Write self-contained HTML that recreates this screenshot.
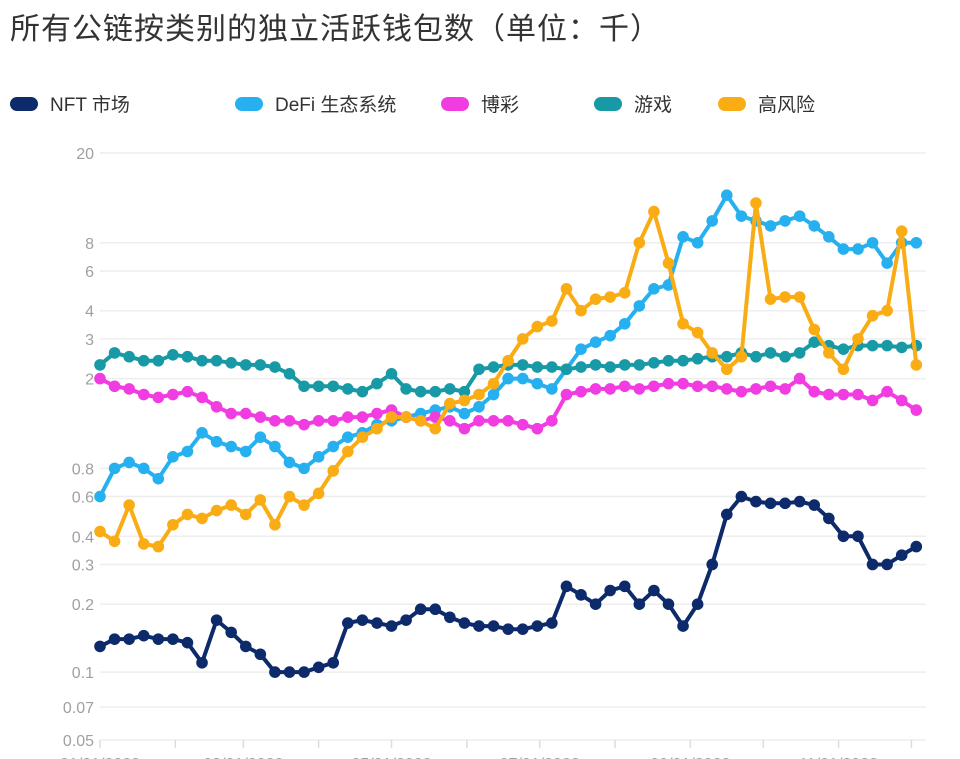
<!DOCTYPE html>
<html><head><meta charset="utf-8">
<style>
html,body{margin:0;padding:0;background:#fff;}
body{width:960px;height:759px;overflow:hidden;position:relative;font-family:"Liberation Sans","Noto Sans CJK SC",sans-serif;}
#title{position:absolute;left:10px;top:4px;font-size:30px;color:#333;letter-spacing:1px;}
.leg{position:absolute;top:90px;font-size:19px;color:#333;display:flex;align-items:center;}
.leg i{display:inline-block;width:28px;height:14px;border-radius:7px;margin-right:12px;}
</style></head><body>
<div id="title">所有公链按类别的独立活跃钱包数（单位：千）</div>
<div class="leg" style="left:10px"><i style="background:#0d2a6b"></i>NFT 市场</div>
<div class="leg" style="left:235px"><i style="background:#27b0f0"></i>DeFi 生态系统</div>
<div class="leg" style="left:441px"><i style="background:#f03ce0"></i>博彩</div>
<div class="leg" style="left:594px"><i style="background:#1899a6"></i>游戏</div>
<div class="leg" style="left:718px"><i style="background:#f9ac14"></i>高风险</div>
<svg id="chart" width="960" height="759" style="position:absolute;left:0;top:0"></svg>
<script>
const days=[0,6,12,18,24,30,36,42,48,54,60,66,72,78,84,90,96,102,108,114,120,126,132,138,144,150,156,162,168,174,180,186,192,198,204,210,216,222,228,234,240,246,252,258,264,270,276,282,288,294,300,306,312,318,324,330,336];
const nft=[0.13,0.14,0.14,0.145,0.14,0.14,0.135,0.11,0.17,0.15,0.13,0.12,0.1,0.1,0.1,0.105,0.11,0.165,0.17,0.165,0.16,0.17,0.19,0.19,0.175,0.165,0.16,0.16,0.155,0.155,0.16,0.165,0.24,0.22,0.2,0.23,0.24,0.2,0.23,0.2,0.16,0.2,0.3,0.5,0.6,0.57,0.56,0.56,0.57,0.55,0.48,0.4,0.4,0.3,0.3,0.33,0.36];
const defi=[0.6,0.8,0.85,0.8,0.72,0.9,0.95,1.15,1.05,1.0,0.95,1.1,1.0,0.85,0.8,0.9,1.0,1.1,1.15,1.25,1.3,1.35,1.4,1.45,1.5,1.4,1.5,1.7,2.0,2.0,1.9,1.8,2.2,2.7,2.9,3.1,3.5,4.2,5.0,5.2,8.5,8.0,10,13,10.5,10,9.5,10,10.5,9.5,8.5,7.5,7.5,8,6.5,8,8];
const gambling=[2.0,1.85,1.8,1.7,1.65,1.7,1.75,1.65,1.5,1.4,1.4,1.35,1.3,1.3,1.25,1.3,1.3,1.35,1.35,1.4,1.45,1.35,1.3,1.35,1.3,1.2,1.3,1.3,1.3,1.25,1.2,1.3,1.7,1.75,1.8,1.8,1.85,1.8,1.85,1.9,1.9,1.85,1.85,1.8,1.75,1.8,1.85,1.8,2.0,1.75,1.7,1.7,1.7,1.6,1.75,1.6,1.45];
const gaming=[2.3,2.6,2.5,2.4,2.4,2.55,2.5,2.4,2.4,2.35,2.3,2.3,2.25,2.1,1.85,1.85,1.85,1.8,1.75,1.9,2.1,1.8,1.75,1.75,1.8,1.75,2.2,2.25,2.3,2.3,2.25,2.25,2.2,2.25,2.3,2.25,2.3,2.3,2.35,2.4,2.4,2.45,2.5,2.5,2.6,2.5,2.6,2.5,2.6,2.9,2.8,2.7,2.8,2.8,2.8,2.75,2.8];
const highRisk=[0.42,0.38,0.55,0.37,0.36,0.45,0.5,0.48,0.52,0.55,0.5,0.58,0.45,0.6,0.55,0.62,0.78,0.95,1.1,1.2,1.35,1.35,1.3,1.2,1.55,1.6,1.7,1.9,2.4,3.0,3.4,3.6,5.0,4.0,4.5,4.6,4.8,8.0,11.0,6.5,3.5,3.2,2.6,2.2,2.5,12.0,4.5,4.6,4.6,3.3,2.6,2.2,3.0,3.8,4.0,9.0,2.3];
const yTicks=[20,8,6,4,3,2,0.8,0.6,0.4,0.3,0.2,0.1,0.07,0.05];
const yTickLabels=["20","8","6","4","3","2","0.8","0.6","0.4","0.3","0.2","0.1","0.07","0.05"];
const monthDays=[0,31,59,90,120,151,181,212,243,273,304,334];
const xLabels=["01/01/2022","","03/01/2022","","05/01/2022","","07/01/2022","","09/01/2022","","11/01/2022",""];

const NS="http://www.w3.org/2000/svg";
const svg=document.getElementById('chart');
const X0=100,X1=926,DMAX=340;
function xs(d){return X0+(X1-X0)*d/DMAX;}
function ys(v){return 153+(Math.log10(20)-Math.log10(v))*225.6;}
function mk(tag,attrs){const e=document.createElementNS(NS,tag);for(const k in attrs)e.setAttribute(k,attrs[k]);svg.appendChild(e);return e;}

yTicks.forEach((t,i)=>{
  const g=mk('line',{x1:X0,x2:X1,y1:ys(t),y2:ys(t),stroke:'#eeeeee','stroke-width':1.5});
  
  
  const tx=mk('text',{x:94,y:ys(t)+6,'text-anchor':'end','font-size':16,fill:'#a0a0a0','font-family':'Liberation Sans, sans-serif'});
  tx.textContent=yTickLabels[i];
  
  
});
monthDays.forEach((d,i)=>{
  const tk=mk('line',{x1:xs(d),x2:xs(d),y1:740,y2:748,stroke:'#dddddd','stroke-width':1.5});
  
  
  if(xLabels[i]){
    const tx=mk('text',{x:xs(d),y:769,'text-anchor':'middle','font-size':16,fill:'#a0a0a0','font-family':'Liberation Sans, sans-serif'});
    tx.textContent=xLabels[i];
    
    
  }
});
function series(vals,color,name){
  const pts=vals.map((v,i)=>xs(days[i]).toFixed(1)+','+ys(v).toFixed(1)).join(' ');
  const pl=mk('polyline',{points:pts,fill:'none',stroke:color,'stroke-width':4,'stroke-linejoin':'round'});
  
  
  vals.forEach((v,i)=>{
    const c=mk('circle',{cx:xs(days[i]),cy:ys(v),r:5.8,fill:color});
    
    
  });
}
series(nft,'#0d2a6b','nft');
series(defi,'#27b0f0','defi');
series(gambling,'#f03ce0','gambling');
series(gaming,'#1899a6','gaming');
series(highRisk,'#f9ac14','high-risk');
</script>
</body></html>
